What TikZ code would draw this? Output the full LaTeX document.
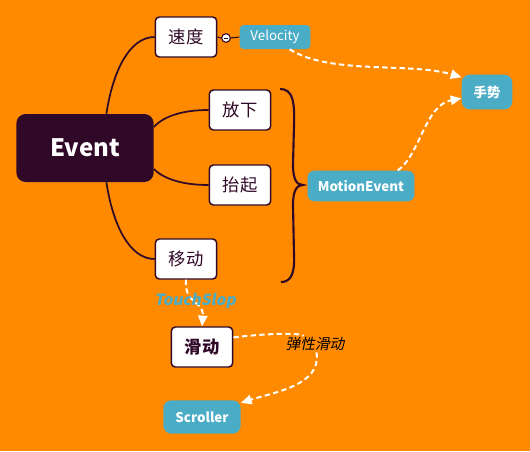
\documentclass[tikz,border=0pt]{standalone}
\usepackage{fontspec}
\setmainfont{Noto Sans CJK SC}[AutoFakeSlant=0.2]
\newfontfamily\slantfont{Noto Sans CJK SC}[UprightFeatures={FakeSlant=0.2}, BoldFeatures={FakeSlant=0.2}]
\usepackage{tikz}
\usetikzlibrary{arrows.meta}
\definecolor{bg-orange}{HTML}{FF8A00}
\definecolor{ev-purple}{HTML}{300828}
\definecolor{tag-blue}{HTML}{4BACC6}
\tikzset{
    event-box/.style = {fill=ev-purple, text=white, rectangle, rounded corners=7pt, inner sep=0pt, minimum width=103pt, minimum height=51pt, font=\fontsize{18}{20}\selectfont\bfseries},
    topic-box/.style = {draw=ev-purple, fill=white, text=ev-purple, line width=1.1pt, rectangle, rounded corners=3pt, inner sep=0pt, minimum width=46pt, minimum height=30pt, font=\fontsize{13}{15}\selectfont},
    tag-box/.style = {fill=tag-blue, text=white, rectangle, rounded corners=5pt, inner sep=0pt, font=\fontsize{10}{12}\selectfont\bfseries},
    branch/.style = {draw=ev-purple, line width=1.3pt},
    hint-arrow/.style = {draw=white, line width=1.5pt, dash pattern=on 4pt off 2.5pt, -{Triangle[length=8pt,width=7pt,fill=white]}},
}

\begin{document}
\begin{tikzpicture}[x=0.75pt,y=-0.75pt]
\fill[bg-orange] (0,0) rectangle (530,451);
\node[event-box] (event) at (85,148) {Event};
\node[topic-box] (speed) at (186,37) {速度};
\node[topic-box] (drop) at (240,110) {放下};
\node[topic-box] (lift) at (240,185) {抬起};
\node[topic-box] (move) at (186,259) {移动};
\node[topic-box, font=\fontsize{13}{15}\selectfont\bfseries] (slide) at (202,347) {滑动};
\node[tag-box, font=\fontsize{10}{12}\selectfont, rounded corners=3pt, minimum width=53pt, minimum height=18pt] (velocity) at (275,37) {Velocity};
\node[tag-box, rounded corners=6pt, minimum width=38pt, minimum height=26pt] (gesture) at (487,92) {手势};
\node[tag-box, minimum width=80pt, minimum height=23pt] (motion) at (361,186) {MotionEvent};
\node[tag-box, rounded corners=6pt, minimum width=58pt, minimum height=25pt] (scroller) at (202,417) {Scroller};
\node[circle, draw=ev-purple, fill=white, line width=0.8pt, inner sep=0pt, minimum size=6.5pt] (fold) at (226,38) {};
\draw[ev-purple, line width=0.7pt] ([xshift=-1.7pt]fold.center) -- ([xshift=1.7pt]fold.center);

\draw[branch] (event.58) .. controls (113,70) and (130,37) .. (speed.west);
\draw[branch] (event.17) .. controls (165,115) and (185,110) .. (drop.west);
\draw[branch] (event.-17) .. controls (165,180) and (185,185) .. (lift.west);
\draw[branch] (event.-58) .. controls (113,226) and (130,259) .. (move.west);
\draw[branch, line width=0.8pt] (speed.east) -- (fold.west);
\draw[branch, line width=0.8pt] (fold.east) -- (velocity.west);

\draw[ev-purple, line width=1.6pt] (280,89) .. controls (292,89) and (295,100) .. (294,125) -- (293,165) .. controls (293,180) and (297,185) .. (303,185) .. controls (297,185) and (293,190) .. (293,205) -- (294,255) .. controls (295,275) and (290,282) .. (281,282);

\draw[hint-arrow] (velocity.-40) .. controls (330,75) and (410,62) .. (gesture.150);
\draw[hint-arrow] (motion.23) .. controls (420,155) and (425,105) .. (gesture.194);
\draw[hint-arrow] (move.south) .. controls (184,305) and (204,300) .. (slide.north);
\node[font=\fontsize{11.5}{13}\selectfont\slantfont\bfseries, text=tag-blue] (slop) at (195,301) {TouchSlop};
\node[font=\fontsize{11}{13}\selectfont\itshape, inner sep=1pt] (elastic) at (315,344) {弹性滑动};
\draw[hint-arrow] (slide.17) .. controls (270,333) and (300,333) .. (elastic) .. controls (322,385) and (275,392) .. (scroller.20);
\end{tikzpicture}
\end{document}
